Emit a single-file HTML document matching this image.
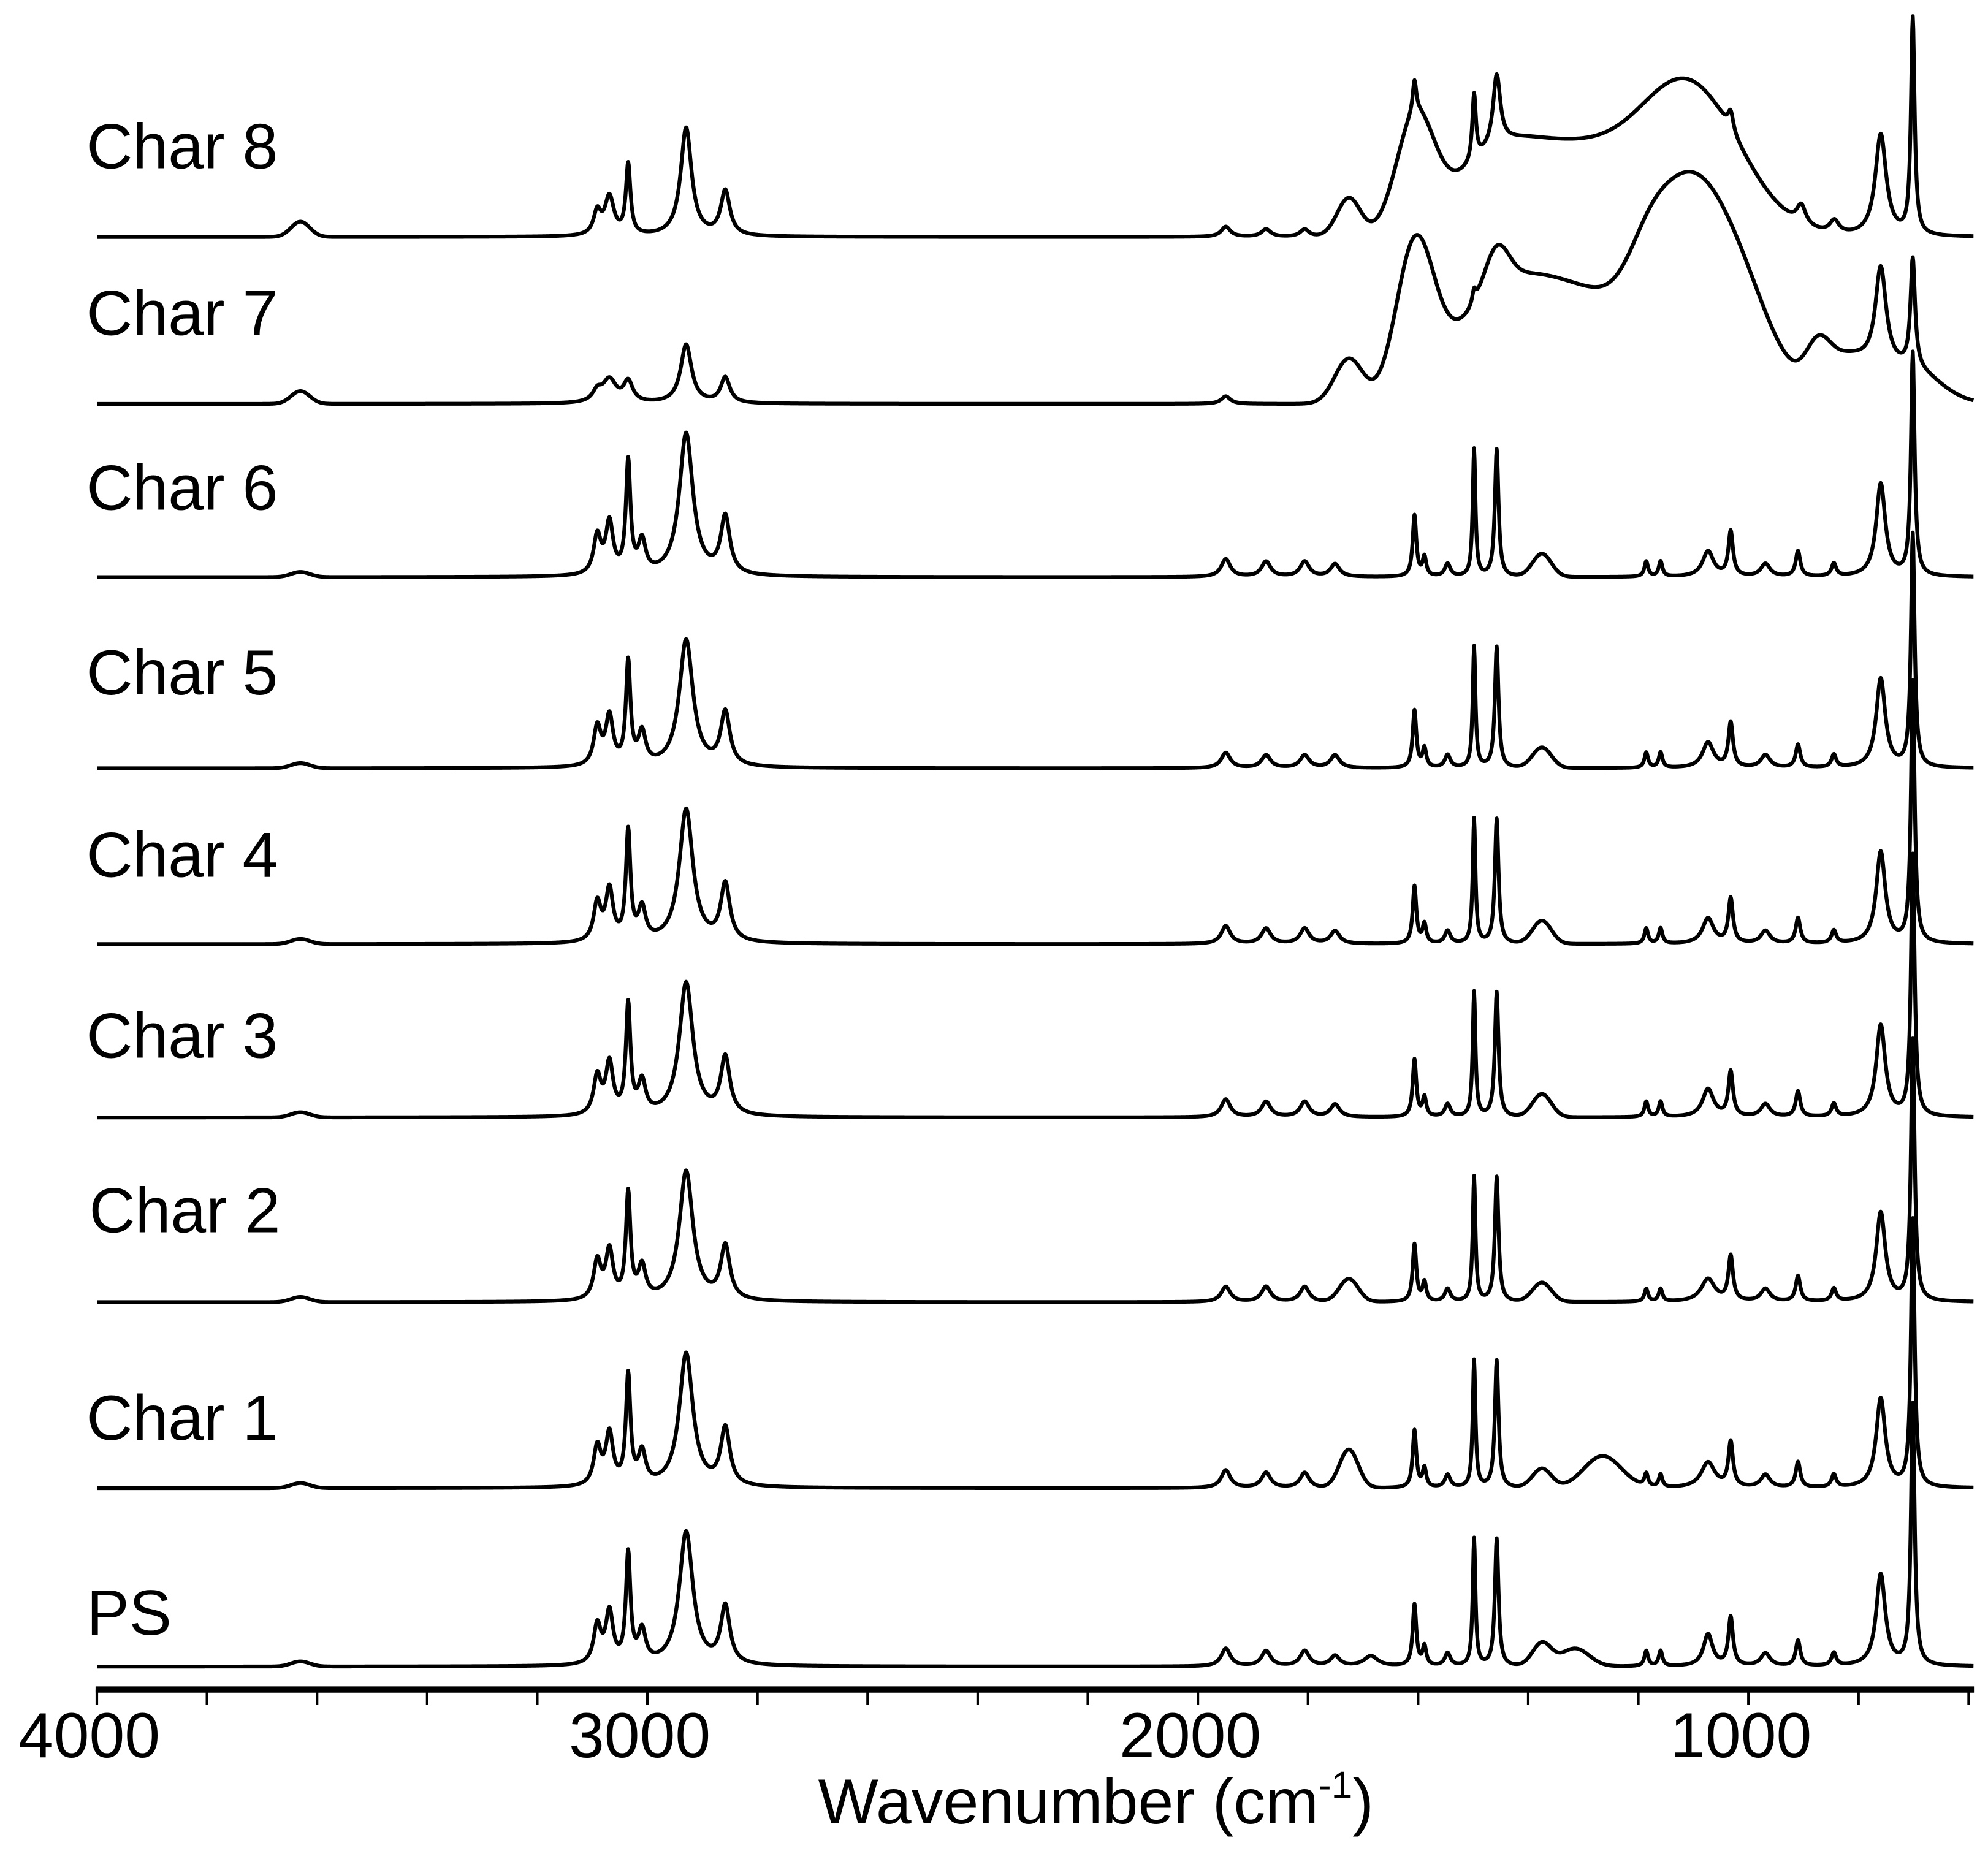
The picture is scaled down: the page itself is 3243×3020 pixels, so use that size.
<!DOCTYPE html>
<html><head><meta charset="utf-8"><style>
html,body{margin:0;padding:0;background:#fff;}
svg{display:block;}
text{font-family:"Liberation Sans",Arial,sans-serif;fill:#000;}
</style></head><body>
<svg id="chart" width="3243" height="3020" viewBox="0 0 1560 1452.7" preserveAspectRatio="none" xmlns="http://www.w3.org/2000/svg">
<g id="series"></g>
<g id="labels"></g>
<g id="axis"></g>
<text x="860" y="1431" font-size="50" text-anchor="middle">Wavenumber (cm<tspan font-size="30" dy="-20">-1</tspan><tspan dy="20">)</tspan></text>
</svg>
<script>
const seriesNames = ["PS","Char 1","Char 2","Char 3","Char 4","Char 5","Char 6","Char 7","Char 8"];
const seriesOffsets = [1308,1168,1022,877,741,603,453,317,186];
const labelOffsets = [1283,1130,967,830,688,545,400,263,132];
const tickValues = [4000,3800,3600,3400,3200,3000,2800,2600,2400,2200,2000,1800,1600,1400,1200,1000,800,600];
const tickLabels = [4000,3000,2000,1000];

const psCenters = [3620,3082,3060,3026,3001,2921,2850,1943,1870,1800,1745,1680,1601,1583,1541,1493,1452,1370,1310,1181,1155,1069,1028,965,906,841,756,698];
const psHeights = [4,30,40,85,25,105,45,14,12,12,8,8,48,15,10,100,100,18,14,12,12,25,38,10,20,10,72,205];
const psWidths = [20,8,8,5,8,15,10,10,10,10,10,15,4,4,6,3,4,20,30,4,4,10,5,10,5,5,10,4];

const c1Centers = [3620,3082,3060,3026,3001,2921,2850,1943,1870,1800,1720,1601,1583,1541,1493,1452,1370,1260,1181,1155,1069,1028,965,906,841,756,698];
const c1Heights = [4,30,40,85,25,105,45,14,12,12,30,45,15,10,100,100,15,25,10,10,20,35,10,20,10,70,210];
const c1Widths = [20,8,8,5,8,15,10,10,10,10,20,4,4,6,3,4,20,40,4,4,15,5,10,5,5,10,4];

const c2Centers = [3620,3082,3060,3026,3001,2921,2850,1943,1870,1800,1720,1601,1583,1541,1493,1452,1370,1181,1155,1069,1028,965,906,841,756,698];
const c2Heights = [4,30,38,82,25,102,42,12,12,12,18,45,15,10,98,98,15,10,10,18,35,10,20,10,70,205];
const c2Widths = [20,8,8,5,8,15,10,10,10,10,20,4,4,6,3,4,20,4,4,15,5,10,5,5,10,4];

const c3Centers = [3620,3082,3060,3026,3001,2921,2850,1943,1870,1800,1745,1601,1583,1541,1493,1452,1370,1181,1155,1069,1028,965,906,841,756,698];
const c3Heights = [4,30,40,85,25,105,45,14,12,12,10,45,15,10,98,98,18,12,12,22,35,10,20,10,72,205];
const c3Widths = [20,8,8,5,8,15,10,10,10,10,10,4,4,6,3,4,20,4,4,12,5,10,5,5,10,4];

const c4Centers = [3620,3082,3060,3026,3001,2921,2850,1943,1870,1800,1745,1601,1583,1541,1493,1452,1370,1181,1155,1069,1028,965,906,841,756,698];
const c4Heights = [4,30,40,85,25,105,45,14,12,12,10,45,15,10,98,98,18,12,12,20,35,10,20,10,72,205];
const c4Widths = [20,8,8,5,8,15,10,10,10,10,10,4,4,6,3,4,20,4,4,12,5,10,5,5,10,4];

const c5Centers = [3620,3082,3060,3026,3001,2921,2850,1943,1870,1800,1745,1601,1583,1541,1493,1452,1370,1181,1155,1069,1028,965,906,841,756,698];
const c5Heights = [4,30,38,80,25,100,42,12,10,10,10,45,15,10,95,95,16,12,12,20,35,10,18,10,70,183];
const c5Widths = [20,8,8,5,8,15,10,10,10,10,10,4,4,6,3,4,20,4,4,12,5,10,5,5,10,4];

const c6Centers = [3620,3082,3060,3026,3001,2921,2850,1943,1870,1800,1745,1601,1583,1541,1493,1452,1370,1181,1155,1069,1028,965,906,841,756,698];
const c6Heights = [4,30,40,87,25,112,45,14,12,12,10,48,15,10,100,100,18,12,12,20,35,10,20,10,73,175];
const c6Widths = [20,8,8,5,8,15,10,10,10,10,10,4,4,6,3,4,20,4,4,12,5,10,5,5,10,4];

const c7Centers = [3620,3082,3060,3026,2921,2850,1943,1720,1600,1450,1452,1493,1300,1180,1107,1000,870,820,756,700,698];
const c7Heights = [10,8,18,16,46,20,6,35,115,80,30,10,70,18,165,50,25,35,78,25,85];
const c7Widths = [20,10,15,10,12,10,10,30,40,100,25,4,100,40,90,70,25,60,12,60,5];

const c8Centers = [3620,3082,3060,3026,2921,2850,1943,1870,1800,1720,1600,1601,1450,1493,1452,1300,1107,1028,900,840,756,698];
const c8Heights = [12,18,30,55,85,35,8,6,6,30,85,25,62,52,55,50,120,15,15,10,80,170];
const c8Widths = [20,8,10,5,12,10,10,10,10,25,40,4,100,4,8,100,110,6,10,10,12,4];

const allCenters = [psCenters,c1Centers,c2Centers,c3Centers,c4Centers,c5Centers,c6Centers,c7Centers,c8Centers];
const allHeights = [psHeights,c1Heights,c2Heights,c3Heights,c4Heights,c5Heights,c6Heights,c7Heights,c8Heights];
const allWidths = [psWidths,c1Widths,c2Widths,c3Widths,c4Widths,c5Widths,c6Widths,c7Widths,c8Widths];

const X0 = 76, PXPER = 0.432;
function xScale(w){ return X0 + (4000 - w) * PXPER; }
const DX0 = 71.2, DPXPER = 0.433;
function xData(w){ return DX0 + (4000 - w) * DPXPER; }
function band(w, c, h, wd){
  const d = (w - c) / wd;
  if (wd > 15) return h * Math.exp(-0.6931 * d * d);
  return h / (1 + d * d);
}
const NS = "http://www.w3.org/2000/svg";
const gS = document.getElementById('series');
for (let s = 0; s < seriesNames.length; s++) {
  let d = "";
  for (let w = 3988; w >= 588; w -= 1) {
    let v = 0;
    const C = allCenters[s], H = allHeights[s], W = allWidths[s];
    for (let k = 0; k < C.length; k++) v += band(w, C[k], H[k], W[k]);
    const y = seriesOffsets[s] - v;
    d += (d ? "L" : "M") + xData(w).toFixed(2) + " " + y.toFixed(2);
  }
  const p = document.createElementNS(NS, 'path');
  p.setAttribute('d', d);
  p.setAttribute('fill', 'none');
  p.setAttribute('stroke', '#000');
  p.setAttribute('stroke-width', '3');
  p.setAttribute('stroke-linejoin', 'round');
  
  
  gS.appendChild(p);
}
const gL = document.getElementById('labels');
for (let s = 0; s < seriesNames.length; s++) {
  const t = document.createElementNS(NS, 'text');
  t.setAttribute('x', s === 2 ? 70 : 68);
  t.setAttribute('y', labelOffsets[s]);
  t.setAttribute('font-size', '50');
  t.textContent = seriesNames[s];
  
  
  gL.appendChild(t);
}
const gA = document.getElementById('axis');
const line = document.createElementNS(NS, 'line');
line.setAttribute('x1', 75); line.setAttribute('x2', 1549);
line.setAttribute('y1', 1326); line.setAttribute('y2', 1326);
line.setAttribute('stroke', '#000'); line.setAttribute('stroke-width', '5');


gA.appendChild(line);
for (const tv of tickValues) {
  const t = document.createElementNS(NS, 'line');
  const x = Math.min(xScale(tv), 1548);
  t.setAttribute('x1', x); t.setAttribute('x2', x);
  t.setAttribute('y1', 1326); t.setAttribute('y2', 1338);
  t.setAttribute('stroke', '#000'); t.setAttribute('stroke-width', '2');
  
  
  gA.appendChild(t);
}
for (const tl of tickLabels) {
  const t = document.createElementNS(NS, 'text');
  t.setAttribute('x', xScale(tl) - 6);
  t.setAttribute('y', 1379);
  t.setAttribute('font-size', '50');
  t.setAttribute('text-anchor', 'middle');
  t.textContent = tl;
  
  
  gA.appendChild(t);
}
</script>
</body></html>
